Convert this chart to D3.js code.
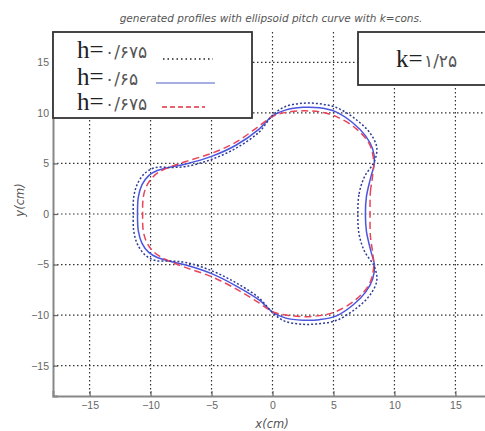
<!DOCTYPE html>
<html>
<head>
<meta charset="utf-8">
<script src="https://cdn.jsdelivr.net/npm/d3@7"></script>
<style>
  body { margin: 0; background: #fff; }
  svg { display: block; }
</style>
</head>
<body>
<div id="chart"></div>
<script>
// ticks on both axes
const tickValues = [-15, -10, -5, 0, 5, 10, 15];

// profile for h = 0.675 (dotted, outer on the lobes)
const profileDotted = [
  [7.0, 0], [7.1, 2.0], [7.55, 3.7], [8.35, 5.2], [8.55, 6.6], [8.0, 8.0], [6.9, 9.3],
  [5.3, 10.5], [3.85, 10.9], [2.4, 10.95], [1.0, 10.6], [0, 9.75], [-1.1, 8.1],
  [-3.0, 6.5], [-5.0, 5.4], [-7.1, 4.7], [-8.4, 4.6], [-9.6, 4.6], [-10.45, 4.05],
  [-11.05, 3.05], [-11.37, 1.75], [-11.42, 0],
  [-11.37, -1.75], [-11.05, -3.05], [-10.45, -4.05], [-9.6, -4.6], [-8.4, -4.65],
  [-7.1, -4.8], [-5.0, -5.6], [-3.0, -6.8], [-1.1, -8.3], [0, -9.75], [1.0, -10.6],
  [2.4, -10.9], [3.85, -10.85], [5.3, -10.5], [6.9, -9.3], [8.0, -8.0], [8.55, -6.6],
  [8.35, -5.2], [7.55, -3.7], [7.1, -2.0]
];

// profile for h = 0.65 (solid blue)
const profileSolid = [
  [7.62, 0], [7.7, 1.7], [8.05, 3.6], [8.36, 5.1], [8.22, 6.4], [7.65, 7.7], [6.6, 9.0],
  [5.2, 10.1], [3.85, 10.5], [2.5, 10.55], [1.1, 10.3], [0, 9.7], [-1.1, 8.4],
  [-3.0, 6.8], [-5.0, 5.7], [-7.1, 4.95], [-8.5, 4.6], [-9.45, 4.3], [-10.15, 3.8],
  [-10.7, 2.9], [-11.0, 1.7], [-11.07, 0],
  [-11.0, -1.7], [-10.7, -2.9], [-10.15, -3.8], [-9.45, -4.3], [-8.5, -4.65],
  [-7.1, -5.05], [-5.0, -5.9], [-3.0, -7.1], [-1.1, -8.5], [0, -9.7], [1.1, -10.3],
  [2.5, -10.5], [3.85, -10.45], [5.2, -10.1], [6.6, -9.0], [7.65, -7.7], [8.22, -6.4],
  [8.36, -5.1], [8.05, -3.6], [7.7, -1.7]
];

// profile for h = 0.675 (red dashed, inner on the lobes)
const profileDashed = [
  [8.0, 0], [8.03, 2.2], [8.2, 3.7], [8.3, 5.2], [7.95, 6.9], [6.9, 8.4], [5.2, 9.65],
  [3.85, 10.1], [2.5, 10.2], [1.1, 10.05], [0, 9.65], [-1.1, 8.7], [-3.0, 7.1],
  [-5.0, 6.0], [-7.1, 5.2], [-8.4, 4.65], [-9.3, 4.15], [-9.9, 3.55], [-10.35, 2.7],
  [-10.6, 1.65], [-10.65, 0],
  [-10.6, -1.65], [-10.35, -2.7], [-9.9, -3.55], [-9.3, -4.15], [-8.4, -4.7],
  [-7.1, -5.3], [-5.0, -6.2], [-3.0, -7.4], [-1.1, -8.8], [0, -9.65], [1.1, -10.0],
  [2.5, -10.15], [3.85, -10.05], [5.2, -9.65], [6.9, -8.4], [7.95, -6.9], [8.3, -5.2],
  [8.2, -3.7], [8.03, -2.2]
];

const legendLabels = ["h=", "h=", "h="];
const legendValues = ["۰/۶۷۵", "۰/۶۵", "۰/۶۷۵"];
const kLabel = "k=";
const kValue = "۱/۲۵";

const W = 485, H = 431;
const plot = { left: 53, top: 32, right: 492, bottom: 396 };

const svg = d3.select("#chart")
  .append("svg")
  .attr("width", W)
  .attr("height", H);

svg.append("rect").attr("width", W).attr("height", H).attr("fill", "#fff");

const x = d3.scaleLinear().domain([-18, 18]).range([plot.left, plot.right]);
const y = d3.scaleLinear().domain([-18, 18]).range([plot.bottom, plot.top]);

// dotted grid
const grid = svg.append("g").attr("class", "grid");
grid.selectAll(".gx")
  .data(tickValues)
  .enter()
  .append("line")
  .attr("x1", d => x(d)).attr("x2", d => x(d))
  .attr("y1", plot.top).attr("y2", plot.bottom)
  .attr("stroke", "#333")
  .attr("stroke-width", 1.2)
  .attr("stroke-dasharray", "1.5,2.5");
grid.selectAll(".gy")
  .data(tickValues)
  .enter()
  .append("line")
  .attr("x1", plot.left).attr("x2", plot.right)
  .attr("y1", d => y(d)).attr("y2", d => y(d))
  .attr("stroke", "#333")
  .attr("stroke-width", 1.2)
  .attr("stroke-dasharray", "1.5,2.5");

// axes
const xAxis = svg.append("g")
  .attr("transform", `translate(0, ${plot.bottom})`)
  .call(d3.axisBottom(x).tickValues(tickValues).tickSize(-5).tickPadding(6));
const yAxis = svg.append("g")
  .attr("transform", `translate(${plot.left}, 0)`)
  .call(d3.axisLeft(y).tickValues(tickValues).tickSize(-5).tickPadding(4));

[xAxis, yAxis].forEach(g => {
  g.select(".domain").attr("stroke", "#888").attr("stroke-width", 2);
  g.selectAll(".tick line").attr("stroke", "#666").attr("stroke-width", 1.2);
  g.selectAll(".tick text")
    .attr("fill", "#666")
    .style("font-family", "Liberation Sans, Arial, sans-serif")
    .style("font-size", "10.5px");
});

// profiles
const line = d3.line()
  .x(d => x(d[0]))
  .y(d => y(d[1]))
  .curve(d3.curveCatmullRomClosed);

svg.append("path")
  .datum(profileSolid)
  .attr("d", line)
  .attr("fill", "none")
  .attr("stroke", "#4a55e0")
  .attr("stroke-width", 1.5);

svg.append("path")
  .datum(profileDashed)
  .attr("d", line)
  .attr("fill", "none")
  .attr("stroke", "#e8455a")
  .attr("stroke-width", 1.5)
  .attr("stroke-dasharray", "7,4");

svg.append("path")
  .datum(profileDotted)
  .attr("d", line)
  .attr("fill", "none")
  .attr("stroke", "#2e3c96")
  .attr("stroke-width", 1.5)
  .attr("stroke-dasharray", "2,2");

// title and axis labels
svg.append("text")
  .attr("x", 271)
  .attr("y", 22)
  .attr("text-anchor", "middle")
  .attr("fill", "#555")
  .style("font-family", "DejaVu Sans, sans-serif")
  .style("font-size", "10.5px")
  .style("font-style", "italic")
  .text("generated profiles with ellipsoid pitch curve with k=cons.");

svg.append("text")
  .attr("x", 272)
  .attr("y", 428)
  .attr("text-anchor", "middle")
  .attr("fill", "#555")
  .style("font-family", "DejaVu Sans, sans-serif")
  .style("font-size", "11.5px")
  .style("font-style", "italic")
  .text("x(cm)");

svg.append("text")
  .attr("transform", "translate(24, 200) rotate(-90)")
  .attr("text-anchor", "middle")
  .attr("fill", "#555")
  .style("font-family", "DejaVu Sans, sans-serif")
  .style("font-size", "11.5px")
  .style("font-style", "italic")
  .text("y(cm)");

// legend box
const legend = svg.append("g");
legend.append("rect")
  .attr("x", 53).attr("y", 32)
  .attr("width", 199).attr("height", 86)
  .attr("fill", "#fff")
  .attr("stroke", "#333")
  .attr("stroke-width", 1.8);

const legendRows = [58, 85, 110];
const sampleStyles = [
  { x1: 163, x2: 213, dy: 1, stroke: "#222", dash: "1.5,3", w: 1.4 },
  { x1: 156, x2: 215, dy: -2, stroke: "#8895d8", dash: null, w: 1.3 },
  { x1: 162, x2: 205, dy: -3, stroke: "#e03040", dash: "5,3", w: 1.3 }
];

legendRows.forEach((row, i) => {
  legend.append("text")
    .attr("x", 77).attr("y", row)
    .attr("fill", "#222")
    .style("font-family", "Liberation Serif, Times New Roman, serif")
    .style("font-size", "25px")
    .text(legendLabels[i]);
  legend.append("text")
    .attr("x", 105).attr("y", row)
    .attr("fill", "#555")
    .style("font-family", "DejaVu Sans, sans-serif")
    .style("font-size", "17px")
    .text(legendValues[i]);
  const s = sampleStyles[i];
  legend.append("line")
    .attr("x1", s.x1).attr("x2", s.x2)
    .attr("y1", row + s.dy).attr("y2", row + s.dy)
    .attr("stroke", s.stroke)
    .attr("stroke-width", s.w)
    .attr("stroke-dasharray", s.dash);
});

// k box
const kBox = svg.append("g");
kBox.append("rect")
  .attr("x", 358).attr("y", 32)
  .attr("width", 140).attr("height", 53)
  .attr("fill", "#fff")
  .attr("stroke", "#333")
  .attr("stroke-width", 1.8);
kBox.append("text")
  .attr("x", 396).attr("y", 67)
  .attr("fill", "#222")
  .style("font-family", "Liberation Serif, Times New Roman, serif")
  .style("font-size", "25px")
  .text(kLabel);
kBox.append("text")
  .attr("x", 424).attr("y", 67)
  .attr("fill", "#555")
  .style("font-family", "DejaVu Sans, sans-serif")
  .style("font-size", "17px")
  .text(kValue);
</script>
</body>
</html>
